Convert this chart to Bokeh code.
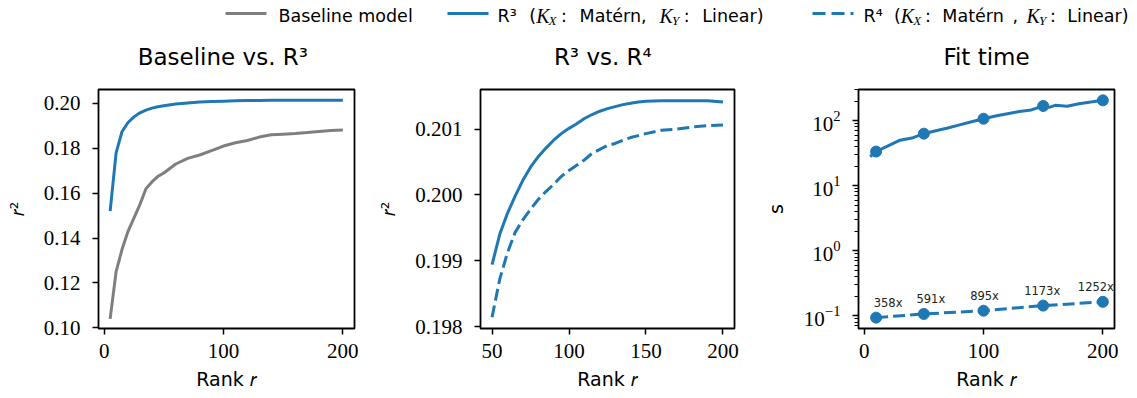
from bokeh.plotting import figure
from bokeh.models import Range1d, FixedTicker, PrintfTickFormatter, ColumnDataSource
from bokeh.layouts import column, row
from bokeh.embed import file_html
from bokeh.resources import INLINE
from bokeh.core.properties import value

# ---------------- data ----------------
rank_a = [5, 10, 15, 20, 25, 30, 35, 40, 45, 50, 60, 70, 80, 90, 100,
          110, 120, 130, 140, 150, 160, 170, 180, 190, 200]
baseline_r2 = [0.1040, 0.1250, 0.1350, 0.1430, 0.1490, 0.1550, 0.1620, 0.1650,
               0.1675, 0.1690, 0.1730, 0.1755, 0.1770, 0.1790, 0.1810,
               0.1825, 0.1835, 0.1850, 0.1860, 0.1863, 0.1866, 0.1870,
               0.1875, 0.1879, 0.1881]
r3_r2_a = [0.1520, 0.1780, 0.1875, 0.1915, 0.1940, 0.1958, 0.1970, 0.1979,
           0.1985, 0.19894, 0.19972, 0.20022, 0.20058, 0.20083, 0.20101,
           0.20116, 0.20127, 0.20134, 0.20139, 0.20142, 0.20143, 0.20143,
           0.20143, 0.20143, 0.20141]

rank_b = [50, 55, 60, 65, 70, 75, 80, 85, 90, 95, 100, 105, 110, 115, 120,
          125, 130, 135, 140, 145, 150, 160, 170, 180, 190, 200]
r3_r2_b = [0.19894, 0.19940, 0.19972, 0.19998, 0.20022, 0.20042, 0.20058,
           0.20071, 0.20083, 0.20093, 0.20101, 0.20108, 0.20116, 0.20122,
           0.20127, 0.20131, 0.20134, 0.20137, 0.20139, 0.20141, 0.20142,
           0.20143, 0.20143, 0.20143, 0.20143, 0.20141]
r4_r2_b = [0.19814, 0.19872, 0.19912, 0.19943, 0.19962, 0.19978, 0.19993,
           0.20005, 0.20016, 0.20028, 0.20037, 0.20045, 0.20053, 0.20063,
           0.20069, 0.20075, 0.20078, 0.20083, 0.20087, 0.20090, 0.20093,
           0.20098, 0.20100, 0.20103, 0.20105, 0.20106]

rank_t = [5, 10, 20, 30, 40, 50, 60, 70, 80, 90, 100, 110, 120, 130, 140,
          150, 155, 160, 170, 180, 190, 200]
r3_time = [28, 33.5, 41, 50, 54, 63, 70, 77, 86, 96, 107, 118, 128, 138, 146,
           168, 160, 172, 166, 182, 194, 205]
rank_m = [10, 50, 100, 150, 200]
r3_time_m = [33.5, 63, 107, 168, 205]
r4_time_m = [0.0936, 0.1066, 0.1196, 0.1432, 0.1637]
speedup_labels = ["358x", "591x", "895x", "1173x", "1252x"]

panel_titles = ["Baseline vs.  R³", "R³ vs.  R⁴", "Fit time"]

BLUE = "#1f77b4"
GRAY = "#7f7f7f"
SANS = "DejaVu Sans"
SERIF = "Liberation Serif"

# layout (window pixels)
FRAME_L = [98, 478, 858]
FRAME_W = 256
STRIP_H = 80
FRAME_TOP = 89


def style(p, ylab_standoff, log=False):
    p.xgrid.visible = False
    p.ygrid.visible = False
    p.outline_line_color = "black"
    p.outline_line_width = 1.8
    p.background_fill_color = "white"
    p.border_fill_color = "white"
    for ax in p.axis:
        ax.axis_line_color = None
        ax.major_tick_line_color = "black"
        ax.major_tick_line_width = 1.5
        ax.major_tick_out = 6
        ax.major_tick_in = 0
        ax.major_label_text_font = SERIF
        ax.major_label_text_font_size = "21px"
        ax.major_label_text_color = "black"
        ax.axis_label_text_font = SANS
        ax.axis_label_text_font_size = "19px"
        ax.axis_label_text_font_style = "normal"
        ax.axis_label_text_color = "black"
        ax.minor_tick_line_color = None
    for ax in p.xaxis:
        ax.major_label_standoff = 9
        ax.axis_label_standoff = 7
    for ax in p.yaxis:
        ax.major_label_standoff = 12
        ax.axis_label_standoff = ylab_standoff
    if log:
        ax = p.yaxis[0]
        ax.minor_tick_line_color = "black"
        ax.minor_tick_line_width = 1.2
        ax.minor_tick_out = 4
        ax.minor_tick_in = 0


common = dict(output_backend="svg", toolbar_location=None, height=316,
              min_border_top=FRAME_TOP - STRIP_H, min_border_bottom=68)

# ---- panel 1 ----
p1 = figure(width=374, x_range=Range1d(-4.75, 209.75), y_range=Range1d(0.0997, 0.2062),
            min_border_left=98, min_border_right=20, **common)
p1.line(rank_a, baseline_r2, line_color=GRAY, line_width=3)
p1.line(rank_a, r3_r2_a, line_color=BLUE, line_width=3)
style(p1, 13)
p1.xaxis.ticker = FixedTicker(ticks=[0, 100, 200])
p1.yaxis.ticker = FixedTicker(ticks=[0.10, 0.12, 0.14, 0.16, 0.18, 0.20])
p1.yaxis.formatter = PrintfTickFormatter(format="%.2f")
p1.xaxis.axis_label = "Rank 𝑟"
p1.yaxis.axis_label = "𝑟²"

# ---- panel 2 ----
p2 = figure(width=380, x_range=Range1d(42.5, 207.5), y_range=Range1d(0.19797, 0.20160),
            min_border_left=104, min_border_right=20, **common)
p2.line(rank_b, r3_r2_b, line_color=BLUE, line_width=3)
p2.line(rank_b, r4_r2_b, line_color=BLUE, line_width=3, line_dash="12 5")
style(p2, 13)
p2.xaxis.ticker = FixedTicker(ticks=[50, 100, 150, 200])
p2.yaxis.ticker = FixedTicker(ticks=[0.198, 0.199, 0.200, 0.201])
p2.yaxis.formatter = PrintfTickFormatter(format="%.3f")
p2.xaxis.axis_label = "Rank 𝑟"
p2.yaxis.axis_label = "𝑟²"

# ---- panel 3 ----
p3 = figure(width=383, x_range=Range1d(-4.75, 209.75), y_range=Range1d(0.0637, 301),
            y_axis_type="log", min_border_left=104, min_border_right=23, **common)
p3.line(rank_t, r3_time, line_color=BLUE, line_width=3)
p3.scatter(rank_m, r3_time_m, size=11, color=BLUE)
p3.line(rank_m, r4_time_m, line_color=BLUE, line_width=3, line_dash="12 5")
p3.scatter(rank_m, r4_time_m, size=11, color=BLUE)
ann = ColumnDataSource(dict(x=rank_m, y=r4_time_m, t=speedup_labels,
                            dx=[12, 7, 1, -1, -7]))
p3.text(x="x", y="y", text="t", x_offset="dx", y_offset=-15, source=ann,
        text_font=value(SANS), text_font_size=value("11.5px"), text_color="#222222",
        text_align="center", text_baseline="middle")
style(p3, 14, log=True)
p3.xaxis.ticker = FixedTicker(ticks=[0, 100, 200])
minor = [m * 10.0 ** e for e in (-2, -1, 0, 1, 2) for m in range(2, 10)]
p3.yaxis.ticker = FixedTicker(ticks=[0.1, 1, 10, 100], minor_ticks=minor)
p3.xaxis.axis_label = "Rank 𝑟"
p3.yaxis.axis_label = "s"

# ---- top strip: legend + panel titles ----
W_SANS = {' ': .318, '(': .390, ')': .390, ',': .318, ':': .337, '.': .318,
          'R': .695, 'M': .863, 'L': .557, 'B': .686, 'a': .613, 't': .392,
          'é': .615, 'e': .615, 'r': .411, 'n': .634, 'i': .278, 's': .521,
          'l': .278, 'm': .974, 'o': .612, 'd': .635, '³': .401, '⁴': .401}
W_IT = {'K': .667, 'X': .611, 'Y': .556}
FS, FK, FSUB = 17.5, 20, 13
SP = W_SANS[' '] * FS


def tw(s, kind):
    if kind == "sans":
        return sum(W_SANS.get(c, .6) for c in s) * FS
    if kind == "it":
        return sum(W_IT.get(c, .6) for c in s) * FK
    return sum(W_IT.get(c, .6) for c in s) * FSUB


lg = figure(width=1137, height=STRIP_H, x_range=Range1d(0, 1137), y_range=Range1d(STRIP_H, 0),
            output_backend="svg", toolbar_location=None, min_border=0)
lg.axis.visible = False
lg.xgrid.visible = False
lg.ygrid.visible = False
lg.outline_line_color = None
lg.background_fill_color = "white"
lg.border_fill_color = "white"

# panel titles
tsrc = ColumnDataSource(dict(x=[l + FRAME_W / 2 for l in FRAME_L], y=[56, 56, 56], t=panel_titles))
lg.text(x="x", y="y", text="t", source=tsrc, text_font=value(SANS),
        text_font_size=value("23px"), text_color="black", text_align="center",
        text_baseline="middle")

YC = 15
handles = [(225, GRAY, "solid"), (447, BLUE, "solid"), (812, BLUE, "13 6")]
for hx, c, d in handles:
    lg.line([hx, hx + 41], [YC - 2, YC - 2], line_color=c, line_width=3, line_dash=d)

# (text, kind, trailing spaces, weight of extra gap after it)
entries = [
    (278, None, [("Baseline model", "sans", 0, 0)]),
    (497, 763, [("R³", "sans", 1, 1), ("(", "sans", 0, 0), ("K", "it", 0, 0), ("X", "sub", 0, .5),
                (":", "sans", 1, 1), ("Matérn,", "sans", 1, 1), ("K", "it", 0, 0), ("Y", "sub", 0, .5),
                (":", "sans", 1, 1), ("Linear)", "sans", 0, 0)]),
    (863, 1128, [("R⁴", "sans", 1, 1), ("(", "sans", 0, 0), ("K", "it", 0, 0), ("X", "sub", 0, .5),
                 (":", "sans", 1, 1), ("Matérn", "sans", 1, .5), (",", "sans", 1, .5), ("K", "it", 0, 0),
                 ("Y", "sub", 0, .5), (":", "sans", 1, 1), ("Linear)", "sans", 0, 0)]),
]
pieces = {"sans": dict(x=[], y=[], t=[]), "it": dict(x=[], y=[], t=[]),
          "sub": dict(x=[], y=[], t=[])}
for x0, x1, parts in entries:
    x = 0.0
    offs = []
    for s, kind, sp, wgt in parts:
        offs.append(x)
        x += tw(s, kind) + sp * SP
    total_w = sum(p[3] for p in parts)
    extra = 0.0 if (x1 is None or total_w == 0) else ((x1 - x0) - x) / total_w
    shift = 0.0
    for i, (s, kind, sp, wgt) in enumerate(parts):
        px = x0 + offs[i] + shift
        shift += extra * wgt
        if kind == "sub":
            px -= 1
            py = YC + 5
        else:
            py = YC
        pieces[kind]["x"].append(px)
        pieces[kind]["y"].append(py)
        pieces[kind]["t"].append(s)

lg.text(x="x", y="y", text="t", source=ColumnDataSource(pieces["sans"]),
        text_font=value(SANS), text_font_size=value(f"{FS}px"), text_color="black",
        text_align="left", text_baseline="middle")
lg.text(x="x", y="y", text="t", source=ColumnDataSource(pieces["it"]),
        text_font=value(SERIF), text_font_style="italic", text_font_size=value(f"{FK}px"),
        text_color="black", text_align="left", text_baseline="middle")
lg.text(x="x", y="y", text="t", source=ColumnDataSource(pieces["sub"]),
        text_font=value(SERIF), text_font_style="italic", text_font_size=value(f"{FSUB}px"),
        text_color="black", text_align="left", text_baseline="middle")

layout = column(lg, row(p1, p2, p3, spacing=0), spacing=0)
open("out.html", "w").write(file_html(layout, INLINE))
